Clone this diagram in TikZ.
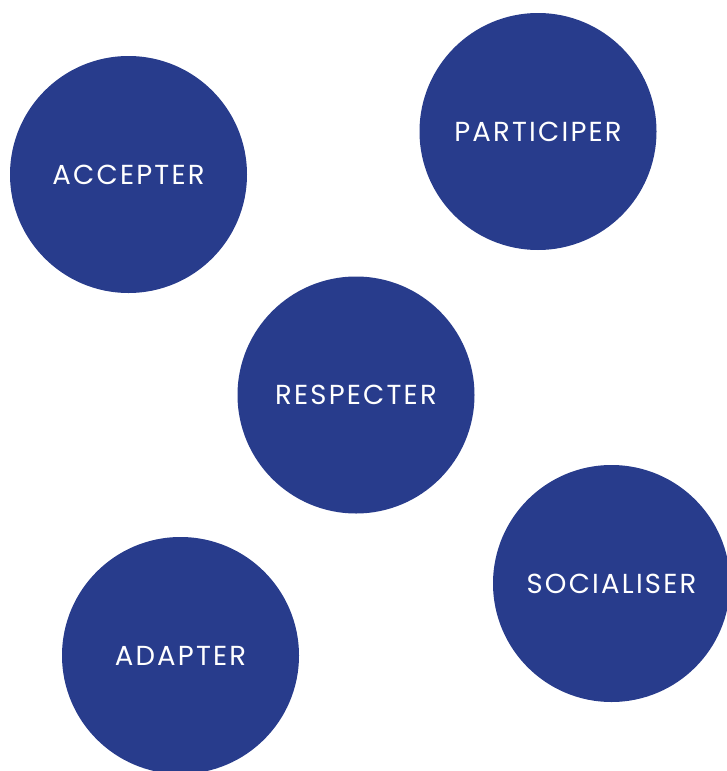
\documentclass[tikz,border=0pt]{standalone}
\usepackage{fontspec}
\setmainfont{Poppins}
\newfontfamily\lblfont[LetterSpace=8]{Poppins}
\definecolor{bleu}{RGB}{40,60,140}
\begin{document}
\begin{tikzpicture}[x=1pt,y=-1pt,
  disc/.style={circle,fill=bleu,minimum size=237pt,inner sep=0pt,text=white,font=\lblfont\fontsize{27.5}{28}\selectfont,text depth=-3pt}]
\useasboundingbox (0,0) rectangle (727,771);
\begin{scope}
\clip (0,0) rectangle (727,771);
\node[disc] (accepter) at (128.5,174.5) {ACCEPTER};
\node[disc] (participer) at (538,131.5) {PARTICIPER};
\node[disc] (respecter) at (356,395) {RESPECTER};
\node[disc] (socialiser) at (611.5,583.5) {SOCIALISER};
\node[disc] (adapter) at (180.5,655.5) {ADAPTER};
\end{scope}
\end{tikzpicture}
\end{document}
